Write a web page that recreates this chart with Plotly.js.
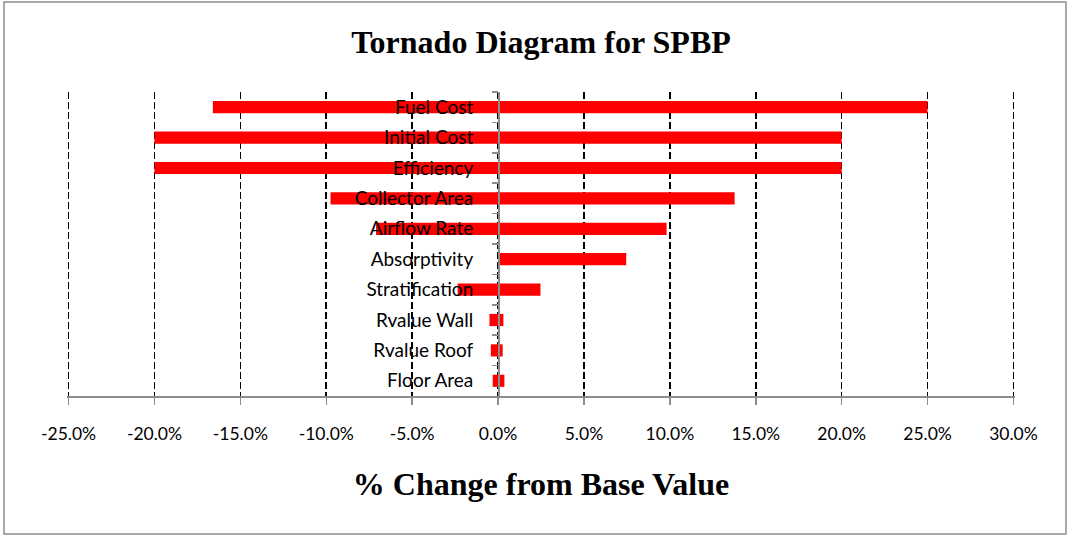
<!DOCTYPE html>
<html>
<head>
<meta charset="utf-8">
<script src="https://cdn.plot.ly/plotly-3.0.1.min.js"></script>
<style>
  html, body { margin: 0; padding: 0; background: #fff; }
  #chart { width: 1068px; height: 535px; }
</style>
</head>
<body>
<div id="chart"></div>
<script>
// Parameters, top to bottom as shown in the diagram
var parameters = ['Fuel Cost', 'Initial Cost', 'Efficiency', 'Collector Area', 'Airflow Rate',
  'Absorptivity', 'Stratification', 'Rvalue Wall', 'Rvalue Roof', 'Floor Area'];

// % change from base value (as fractions)
var lowChange = [-0.166, -0.20, -0.20, -0.0975, -0.071, 0.0, -0.0235, -0.005, -0.0042, -0.0031];
var highChange = [0.25, 0.20, 0.20, 0.1377, 0.0981, 0.0746, 0.0247, 0.0031, 0.0027, 0.0037];

// x axis ticks and their labels
var tickValues = [-0.25, -0.20, -0.15, -0.10, -0.05, 0, 0.05, 0.10, 0.15, 0.20, 0.25, 0.30];
var tickLabels = ['-25.0%', '-20.0%', '-15.0%', '-10.0%', '-5.0%', '0.0%',
  '5.0%', '10.0%', '15.0%', '20.0%', '25.0%', '30.0%'];

// a hair wider than the end ticks so plotly keeps the edge gridlines
var xRange = [-0.2509, 0.3009];

var barColor = '#ff0000';
var axisGrey = '#8c8c8c';
var sansFamily = 'Lato, Calibri, "Open Sans", sans-serif';
var serifFamily = '"Liberation Serif", "Times New Roman", serif';

var data = [
  {
    type: 'bar',
    orientation: 'h',
    y: parameters,
    x: lowChange,
    width: 0.4,
    marker: {color: barColor, line: {width: 0}},
    hoverinfo: 'x+y',
    showlegend: false
  },
  {
    type: 'bar',
    orientation: 'h',
    y: parameters,
    x: highChange,
    width: 0.4,
    marker: {color: barColor, line: {width: 0}},
    hoverinfo: 'x+y',
    showlegend: false
  }
];

// place y axis at x = 0 on the value axis
var zeroPos = (0 - xRange[0]) / (xRange[1] - xRange[0]);

var layout = {
  width: 1068,
  height: 535,
  paper_bgcolor: '#fff',
  plot_bgcolor: '#fff',
  barmode: 'relative',
  showlegend: false,
  margin: {l: 67, r: 53, t: 92, b: 139, pad: 0},
  title: {
    text: 'Tornado Diagram for SPBP',
    font: {family: serifFamily, size: 32, color: '#000', weight: 'bold'},
    x: 0.5,
    xref: 'paper',
    xanchor: 'center',
    y: 1 - 42 / 535,
    yref: 'container',
    yanchor: 'middle'
  },
  xaxis: {
    range: xRange,
    tickmode: 'array',
    tickvals: tickValues,
    ticktext: tickLabels,
    showgrid: true,
    gridcolor: '#000',
    gridwidth: 1.6,
    griddash: '7px,3px',
    zeroline: false,
    showline: true,
    linecolor: axisGrey,
    linewidth: 1.5,
    ticks: 'outside',
    ticklen: 7,
    tickwidth: 1.5,
    tickcolor: axisGrey,
    tickfont: {family: sansFamily, size: 17.5, color: '#000'},
    ticklabelstandoff: 14,
    title: {text: '% Change from Base Value', font: {family: serifFamily, size: 32, color: '#000', weight: 'bold'}, standoff: 30},
    fixedrange: true
  },
  yaxis: {
    type: 'category',
    autorange: 'reversed',
    anchor: 'free',
    position: zeroPos,
    showgrid: false,
    zeroline: false,
    showline: true,
    linecolor: axisGrey,
    linewidth: 1.5,
    ticks: 'outside',
    tickson: 'boundaries',
    ticklen: 6,
    tickwidth: 1.5,
    tickcolor: axisGrey,
    tickfont: {family: sansFamily, size: 19, color: '#000'},
    ticklabelstandoff: 21,
    fixedrange: true
  },
  shapes: [
    {
      // outer chart border
      type: 'rect',
      xref: 'paper', yref: 'paper',
      x0: (4 - 67) / 948, x1: (1066 - 67) / 948,
      y0: (396 - 534) / 304, y1: (396 - 2) / 304,
      line: {color: axisGrey, width: 1.5},
      fillcolor: 'rgba(0,0,0,0)',
      layer: 'below'
    }
  ]
};

Plotly.newPlot('chart', data, layout, {displayModeBar: false, staticPlot: true});
</script>
</body>
</html>
